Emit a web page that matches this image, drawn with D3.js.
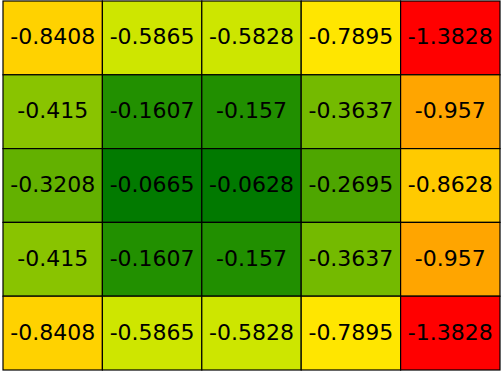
<!DOCTYPE html>
<html>
<head>
<meta charset="utf-8">
<script src="https://cdn.jsdelivr.net/npm/d3@7"></script>
<style>
  body { margin: 0; background: #fff; }
</style>
</head>
<body>
<div></div>
<script>
const width = 503;
const height = 374;

const rows = [0, 1, 2, 3, 4];
const cols = [0, 1, 2, 3, 4];
const values = [
  [-0.8408, -0.5865, -0.5828, -0.7895, -1.3828],
  [-0.415, -0.1607, -0.157, -0.3637, -0.957],
  [-0.3208, -0.0665, -0.0628, -0.2695, -0.8628],
  [-0.415, -0.1607, -0.157, -0.3637, -0.957],
  [-0.8408, -0.5865, -0.5828, -0.7895, -1.3828]
];

const svg = d3
  .select("div")
  .append("svg")
  .attr("width", width)
  .attr("height", height);

const xScale = d3.scaleBand().domain(cols).range([3, 500]);
const yScale = d3.scaleBand().domain(rows).range([1, 370]);

// red -> orange -> yellow -> lime -> green
const color = d3
  .scaleLinear()
  .domain([-1.38, -0.957, -0.79, -0.58, -0.16, -0.06])
  .range(["#ff0000", "#ffa500", "#ffe600", "#cce600", "#229000", "#007800"])
  .clamp(true);

const cells = [];
values.forEach((row, r) => {
  row.forEach((v, c) => cells.push({ r: r, c: c, v: v }));
});

const g = svg.selectAll("g.cell").data(cells).enter().append("g").attr("class", "cell");

g.append("rect")
  .attr("x", (d) => xScale(d.c))
  .attr("y", (d) => yScale(d.r))
  .attr("width", xScale.bandwidth())
  .attr("height", yScale.bandwidth())
  .attr("fill", (d) => color(d.v))
  .attr("stroke", "#000")
  .attr("stroke-width", 1.2);

g.append("text")
  .attr("x", (d) => xScale(d.c) + xScale.bandwidth() / 2)
  .attr("y", (d) => yScale(d.r) + yScale.bandwidth() / 2 - 1)
  .attr("text-anchor", "middle")
  .attr("dominant-baseline", "central")
  .attr("font-family", "DejaVu Sans")
  .attr("font-size", 22)
  .attr("fill", "#000")
  .text((d) => d.v);
</script>
</body>
</html>
